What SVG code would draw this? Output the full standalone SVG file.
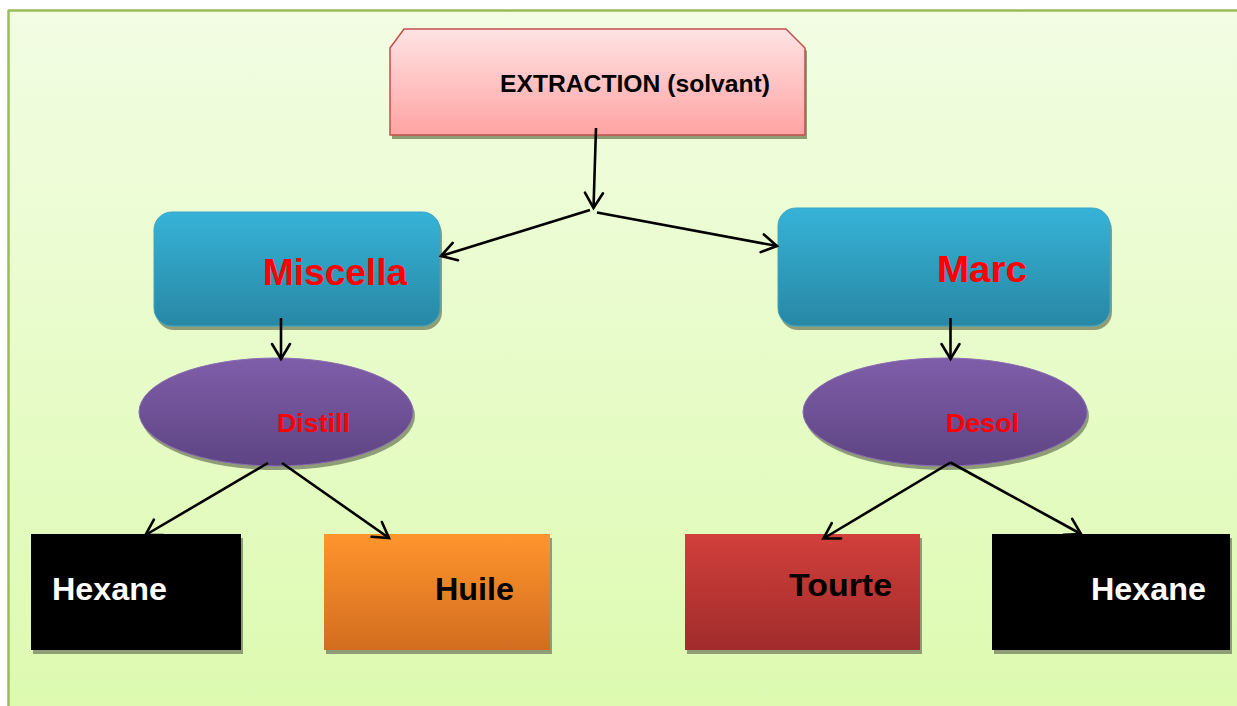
<svg xmlns="http://www.w3.org/2000/svg" width="1237" height="706" viewBox="0 0 1237 706">
  <defs>
    <linearGradient id="bg" x1="0" y1="0" x2="0" y2="1">
      <stop offset="0" stop-color="#f2fde3"/>
      <stop offset="1" stop-color="#ddfab0"/>
    </linearGradient>
    <linearGradient id="gPink" x1="0" y1="0" x2="0" y2="1">
      <stop offset="0" stop-color="#ffe3e3"/>
      <stop offset="1" stop-color="#ffa3a3"/>
    </linearGradient>
    <linearGradient id="gBlue" x1="0" y1="0" x2="0" y2="1">
      <stop offset="0" stop-color="#36b3d7"/>
      <stop offset="1" stop-color="#2887a5"/>
    </linearGradient>
    <linearGradient id="gPurple" x1="0" y1="0" x2="0" y2="1">
      <stop offset="0" stop-color="#7f5ea9"/>
      <stop offset="1" stop-color="#5d4483"/>
    </linearGradient>
    <linearGradient id="gOrange" x1="0" y1="0" x2="0" y2="1">
      <stop offset="0" stop-color="#ff952c"/>
      <stop offset="1" stop-color="#d26d20"/>
    </linearGradient>
    <linearGradient id="gRed" x1="0" y1="0" x2="0" y2="1">
      <stop offset="0" stop-color="#d23f3b"/>
      <stop offset="1" stop-color="#a02c2b"/>
    </linearGradient>
    <marker id="arr" markerUnits="userSpaceOnUse" viewBox="-18 -12 21 24" refX="0" refY="0" markerWidth="21" markerHeight="24" orient="auto">
      <path d="M-15,-9 L0,0 L-15,9" fill="none" stroke="#000" stroke-width="2.6" stroke-linecap="round" stroke-linejoin="miter"/>
    </marker>
  </defs>
  <style>
    .shadow { fill: #8e9d76; }
    .lbl { font-family: "Liberation Sans", Arial, sans-serif; font-weight: bold; }
    .red { fill: #ff0000; }
    .blk { fill: #000000; }
    .wht { fill: #ffffff; }
    .conn line { stroke: #000; stroke-width: 2.6; fill: none; marker-end: url(#arr); }
  </style>

  <rect x="0" y="0" width="1237" height="706" fill="#ffffff"/>
  <g id="background">
    <rect x="8" y="10" width="1229" height="696" fill="url(#bg)"/>
    <line x1="8" y1="10.5" x2="1237" y2="10.5" stroke="#9bbb59" stroke-width="2.5"/>
    <line x1="8.5" y1="10" x2="8.5" y2="706" stroke="#9bbb59" stroke-width="2.5"/>
  </g>

  <g id="extraction">
    <polygon class="shadow" points="392,51 406,32 788,32 807,51 807,139 392,139"/>
    <polygon points="390,48 404,29 786,29 805,48 805,135 390,135" fill="url(#gPink)" stroke="#c0504d" stroke-width="1.5"/>
    <text class="lbl blk" x="500" y="92" font-size="24" textLength="270" lengthAdjust="spacingAndGlyphs">EXTRACTION (solvant)</text>
  </g>

  <g id="miscella">
    <rect class="shadow" x="156" y="216" width="286" height="114" rx="18"/>
    <rect x="154" y="212" width="286" height="114" rx="18" fill="url(#gBlue)" stroke="#3aa6c6" stroke-width="1"/>
    <text class="lbl red" x="263" y="285" font-size="36" textLength="144" lengthAdjust="spacingAndGlyphs">Miscella</text>
  </g>

  <g id="marc">
    <rect class="shadow" x="780" y="212" width="332" height="118" rx="18"/>
    <rect x="778" y="208" width="332" height="118" rx="18" fill="url(#gBlue)" stroke="#3aa6c6" stroke-width="1"/>
    <text class="lbl red" x="937" y="282" font-size="36" textLength="90" lengthAdjust="spacingAndGlyphs">Marc</text>
  </g>

  <g id="distill">
    <ellipse class="shadow" cx="278" cy="416" rx="137" ry="54"/>
    <ellipse cx="276" cy="412" rx="137" ry="54" fill="url(#gPurple)" stroke="#8a6db0" stroke-width="1"/>
    <text class="lbl red" x="277" y="432" font-size="26" textLength="73" lengthAdjust="spacingAndGlyphs">Distill</text>
  </g>

  <g id="desol">
    <ellipse class="shadow" cx="947" cy="416" rx="142" ry="54"/>
    <ellipse cx="945" cy="412" rx="142" ry="54" fill="url(#gPurple)" stroke="#8a6db0" stroke-width="1"/>
    <text class="lbl red" x="946" y="432" font-size="26" textLength="73" lengthAdjust="spacingAndGlyphs">Desol</text>
  </g>

  <g id="hexane-left">
    <rect class="shadow" x="33" y="538" width="210" height="116"/>
    <rect x="31" y="534" width="210" height="116" fill="#000000"/>
    <text class="lbl wht" x="52" y="600" font-size="32" textLength="115" lengthAdjust="spacingAndGlyphs">Hexane</text>
  </g>

  <g id="huile">
    <rect class="shadow" x="326" y="538" width="226" height="116"/>
    <rect x="324" y="534" width="226" height="116" fill="url(#gOrange)"/>
    <text class="lbl blk" x="435" y="600" font-size="32" textLength="79" lengthAdjust="spacingAndGlyphs">Huile</text>
  </g>

  <g id="tourte">
    <rect class="shadow" x="687" y="538" width="235" height="116"/>
    <rect x="685" y="534" width="235" height="116" fill="url(#gRed)"/>
    <text class="lbl blk" x="789" y="596" font-size="32" textLength="103" lengthAdjust="spacingAndGlyphs">Tourte</text>
  </g>

  <g id="hexane-right">
    <rect class="shadow" x="994" y="538" width="238" height="116"/>
    <rect x="992" y="534" width="238" height="116" fill="#000000"/>
    <text class="lbl wht" x="1091" y="600" font-size="32" textLength="115" lengthAdjust="spacingAndGlyphs">Hexane</text>
  </g>

  <g id="connectors" class="conn">
    <line x1="596" y1="128" x2="593.5" y2="208"/>
    <line x1="590" y1="210" x2="441" y2="256"/>
    <line x1="597" y1="212.5" x2="777" y2="246"/>
    <line x1="281" y1="318" x2="281" y2="359"/>
    <line x1="950.5" y1="318" x2="950.5" y2="359"/>
    <line x1="268" y1="463" x2="145.5" y2="535"/>
    <line x1="282" y1="463" x2="389" y2="538"/>
    <line x1="950.5" y1="462.5" x2="823.5" y2="538.5"/>
    <line x1="950.5" y1="462.5" x2="1081" y2="534"/>
  </g>
</svg>
